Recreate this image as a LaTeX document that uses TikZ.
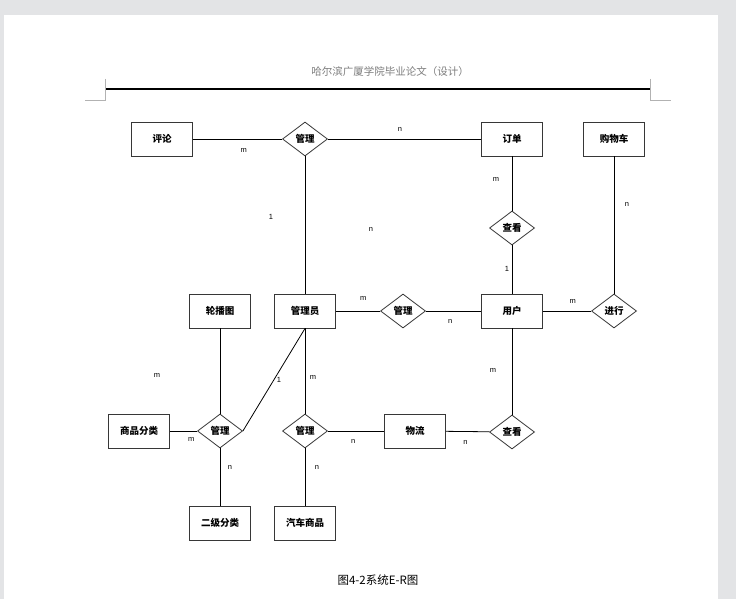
\documentclass[tikz,border=0pt]{standalone}
\usepackage{fontspec}
\setmainfont{Liberation Sans}
\newfontfamily\cjk{Noto Sans CJK SC}
\usetikzlibrary{shapes.geometric, positioning}
\definecolor{edgegray}{RGB}{55,55,55}
\definecolor{pagegray}{RGB}{227,228,230}
\definecolor{headgray}{RGB}{125,125,125}
\tikzstyle{entity} = [rectangle, draw=edgegray, line width=0.9pt, minimum width=61pt, minimum height=34pt, font=\cjk\bfseries\fontsize{9.5}{10}\selectfont]
\tikzstyle{rel} = [diamond, draw=edgegray, line width=0.8pt, minimum width=45pt, minimum height=34pt, inner sep=0pt, font=\cjk\bfseries\fontsize{9.5}{10}\selectfont]
\tikzstyle{line} = [draw, line width=0.8pt]
\tikzstyle{card} = [font=\fontsize{7.5}{8}\selectfont, inner sep=0pt]

\begin{document}
\begin{tikzpicture}[x=1pt, y=-1pt]
        % Page
        \fill [pagegray] (0,0) rectangle (736,599);
        \fill [white] (4,15) rectangle (718,599);
        \useasboundingbox (0,0) rectangle (736,599);
        \node [font=\cjk\fontsize{10.5}{12}\selectfont, text=headgray] (header) at (390,72) {哈尔滨广厦学院毕业论文（设计）};
        \draw [line width=1.6pt] (105,89) -- (650,89);
        \draw [gray!60, line width=0.7pt] (105,79) -- (105,100) -- (85,100);
        \draw [gray!60, line width=0.7pt] (650,79) -- (650,100) -- (671,100);

        % Nodes
        \node [entity] (admin) at (305,311) {管理员};
        \node [rel, above of=admin, node distance=172pt] (manage1) {管理};
        \node [entity, left of=manage1, node distance=143pt] (comment) {评论};
        \node [entity, right of=manage1, node distance=207pt] (order) {订单};
        \node [entity, right of=order, node distance=102pt] (cart) {购物车};
        \node [rel, below of=order, node distance=89pt] (view1) {查看};
        \node [entity, below of=view1, node distance=83pt] (user) {用户};
        \node [rel, left of=user, node distance=109pt] (manage2) {管理};
        \node [rel, right of=user, node distance=102pt] (do) {进行};
        \node [entity, left of=admin, node distance=85pt] (banner) {轮播图};
        \node [rel, below of=banner, node distance=120pt] (manage3) {管理};
        \node [entity, left of=manage3, node distance=81pt] (category) {商品分类};
        \node [entity, below of=manage3, node distance=92pt] (subcat) {二级分类};
        \node [rel, below of=admin, node distance=120pt] (manage4) {管理};
        \node [entity, below of=manage4, node distance=92pt] (car) {汽车商品};
        \node [entity, right of=manage4, node distance=110pt] (logistics) {物流};
        \node [rel, below of=user, node distance=121pt] (view2) {查看};
        \node [font=\cjk\fontsize{11.5}{13}\selectfont] (caption) at (378,580) {图4-2系统E-R图};

        % Edges
        \path [line] (comment) -- node [card, pos=0.57, yshift=-11pt] {m} (manage1);
        \path [line] (manage1) -- node [card, pos=0.47, yshift=10pt] {n} (order);
        \path [line] (manage1) -- node [card, pos=0.44, xshift=-34pt] {1} node [card, pos=0.53, xshift=66pt] {n} (admin);
        \path [line] (order) -- node [card, pos=0.43, xshift=-16pt] {m} (view1);
        \path [line] (view1) -- node [card, pos=0.49, xshift=-5pt] {1} (user);
        \path [line] (cart) -- node [card, pos=0.35, xshift=13pt] {n} (do);
        \path [line] (admin) -- node [card, pos=0.62, yshift=13pt] {m} (manage2);
        \path [line] (manage2) -- node [card, pos=0.44, yshift=-10pt] {n} (user);
        \path [line] (user) -- node [card, pos=0.62, yshift=10pt] {m} (do);
        \path [line] (banner) -- node [card, pos=0.55, xshift=-63pt] {m} (manage3);
        \path [line] (admin.south) -- node [card, pos=0.5, xshift=5pt] {1} (manage3.east);
        \path [line] (admin) -- node [card, pos=0.58, xshift=8pt] {m} (manage4);
        \path [line] (category) -- node [card, pos=0.78, yshift=-8pt] {m} (manage3);
        \path [line] (manage3) -- node [card, pos=0.34, xshift=10pt] {n} (subcat);
        \path [line] (manage4) -- node [card, pos=0.45, yshift=-10pt] {n} (logistics);
        \path [line] (manage4) -- node [card, pos=0.33, xshift=12pt] {n} (car);
        \path [line] (logistics) -- node [card, pos=0.45, yshift=-11pt] {n} (view2);
        \path [line] (user) -- node [card, pos=0.49, xshift=-19pt] {m} (view2);
    \end{tikzpicture}
\end{document}
